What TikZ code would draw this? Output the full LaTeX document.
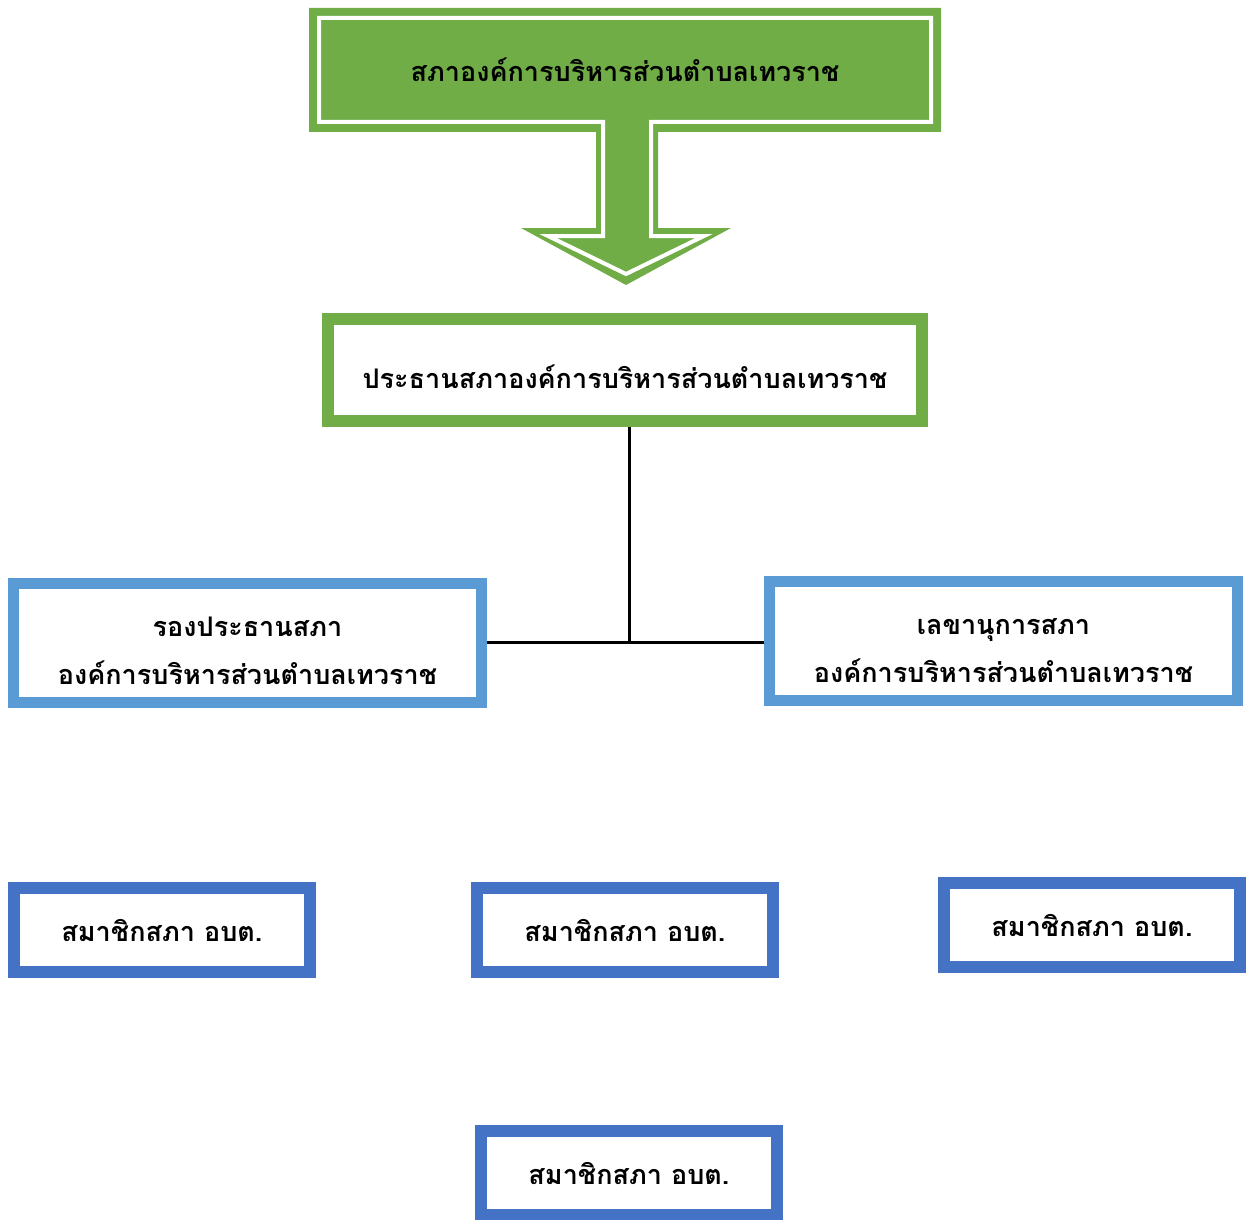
\documentclass[tikz,border=0pt]{standalone}
\usepackage{fontspec}
\newfontfamily\thaifont[Script=Thai]{Loma}
\usepackage{tikz}
\usetikzlibrary{calc}
\definecolor{sgreen}{HTML}{70AD47}
\definecolor{lblue}{HTML}{5B9BD5}
\definecolor{dblue}{HTML}{4472C4}

\begin{document}
\begin{tikzpicture}[x=1pt,y=-1pt,
  thtext/.style={font=\thaifont\bfseries\fontsize{27pt}{48pt}\selectfont,align=center,text=black},
  greenbox/.style={thtext,draw=sgreen,line width=12pt,fill=white,inner sep=0pt,minimum width=594pt,minimum height=102pt},
  officebox/.style={thtext,draw=lblue,line width=11pt,fill=white,inner sep=0pt,minimum width=468pt,minimum height=119pt},
  memberbox/.style={thtext,draw=dblue,line width=12pt,fill=white,inner sep=0pt,minimum width=296pt,minimum height=84pt}]
\useasboundingbox (0,0) rectangle (1250,1220);

% council arrow
\fill[sgreen] (309,8) -- (941,8) -- (941,132) -- (658,132) -- (658,228) -- (731,228)
  -- (626,285) -- (521,228) -- (596,228) -- (596,132) -- (309,132) -- cycle;
\draw[white,line width=4pt,line join=miter] (319,18) -- (931,18) -- (931,122) -- (651,122) -- (651,236) -- (704,236)
  -- (626,274) -- (548,236) -- (603,236) -- (603,122) -- (319,122) -- cycle;
\node[thtext] (council) at (625,70) {สภาองค์การบริหารส่วนตำบลเทวราช};

% president
\node[greenbox] (pres) at (625,370) {\raisebox{-7pt}[\height][\depth]{ประธานสภาองค์การบริหารส่วนตำบลเทวราช}};

% vice and secretary
\node[officebox] (vice) at (247.5,643) {\rule{0pt}{36pt}รองประธานสภา\\องค์การบริหารส่วนตำบลเทวราช};
\node[officebox] (sec) at (1003.5,641) {\rule{0pt}{36pt}เลขานุการสภา\\องค์การบริหารส่วนตำบลเทวราช};

% members
\node[memberbox] (mem1) at (162,930) {สมาชิกสภา อบต.};
\node[memberbox] (mem2) at (625,930) {สมาชิกสภา อบต.};
\node[memberbox] (mem3) at (1092,925) {สมาชิกสภา อบต.};
\node[memberbox] (mem4) at (629,1173) {สมาชิกสภา อบต.};

% lines
\coordinate (junc) at (629,642);
\draw[line width=3pt] (pres.south -| junc) -- (junc);
\draw[line width=3pt] (vice.east |- junc) -- (sec.west |- junc);

\end{tikzpicture}
\end{document}
